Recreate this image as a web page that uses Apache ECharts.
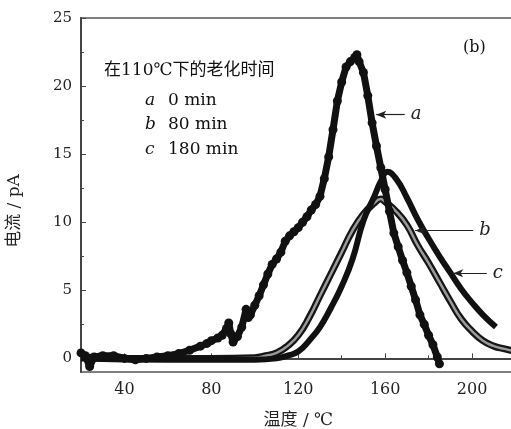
<!DOCTYPE html>
<html>
<head>
<meta charset="utf-8">
<script src="https://cdn.jsdelivr.net/npm/echarts@6/dist/echarts.min.js"></script>
<style>
html,body{margin:0;padding:0;background:#fff;}
#main{width:511px;height:429px;}
</style>
</head>
<body>
<div id="main"></div>
<script>
// 数据: 温度(℃) / 电流(pA)
var tempA = [20,22,24,26,30,35,40,45,50,55,60,65,70,75,78,80,83,85,87,88,89,90,92,94,96,97,98,100,102,104,106,108,110,112,114,116,118,120,122,124,126,128,130,132,134,136,138,140,142,144,146,147,148,150,152,154,156,158,160,162,164,166,168,170,172,174,176,178,180,182,184,185];
var curA  = [0.4,0.2,-0.6,0.1,0.2,0.2,0.0,-0.1,0.0,0.1,0.2,0.35,0.6,0.9,1.1,1.3,1.5,1.7,2.2,2.6,1.8,1.2,1.6,2.3,3.6,3.0,3.2,3.9,4.6,5.4,6.2,6.9,7.3,7.8,8.6,9.0,9.3,9.6,10.0,10.4,10.9,11.3,11.9,13.2,14.8,16.8,18.9,20.3,21.4,21.8,22.1,22.3,21.8,21.0,19.3,17.3,15.6,14.0,12.4,10.8,9.2,8.2,7.2,6.3,5.3,4.3,3.2,2.5,1.7,1.0,0.1,-0.4];

var tempB = [20,40,60,80,100,105,110,115,120,125,130,135,140,145,150,155,158,160,165,170,175,180,185,190,195,200,205,210,215,220];
var curB  = [0.1,0.0,0.0,0.0,0.05,0.2,0.4,0.9,1.7,3.0,4.6,6.2,7.8,9.4,10.6,11.4,11.7,11.5,10.8,9.8,8.3,7.0,5.6,4.2,2.9,2.0,1.3,0.9,0.7,0.5];

var tempC = [20,60,100,110,115,120,125,130,135,140,145,150,155,158,161,165,170,175,180,185,190,195,200,205,211];
var curC  = [0.0,-0.1,-0.1,0.0,0.2,0.5,1.3,2.3,3.7,5.3,7.3,10.1,11.9,13.0,13.7,13.2,11.8,10.2,8.8,7.5,6.3,5.1,4.1,3.2,2.3];

var xMajor = [40,80,120,160,200];
var xMinor = [60,100,140,180,220];
var yMajor = [0,5,10,15,20,25];
var yMinor = [2.5,7.5,12.5,17.5,22.5];

// 标注箭头: [箭头x, y, 尾x, 文字]
var notes = [[155.9,17.9,169.0,'a'],[173.8,9.4,200.5,'b'],[191.3,6.25,206.8,'c']];

var legendRows = [['a','0 min'],['b','80 min'],['c','180 min']];

function pairs(xs, ys){
	var out = [];
	for(var i=0;i<xs.length;i++) out.push([xs[i], ys[i]]);
	return out;
}

var serif = "'DejaVu Serif','Liberation Serif','Noto Sans CJK SC',serif";
var axisColor = '#444';

var markData = [];
for(var i=0;i<notes.length;i++){
	var n = notes[i];
	markData.push([{coord:[n[0],n[1]]},{coord:[n[2],n[1]],label:{formatter:n[3]}}]);
}

var chart = echarts.init(document.getElementById('main'), null, {renderer:'canvas'});

var graphics = [];
graphics.push({type:'text',left:104,top:62,style:{text:'在110℃下的老化时间',font:"17px "+serif,fill:'#111'}});
for(var i=0;i<legendRows.length;i++){
	graphics.push({type:'text',left:145,top:92+i*24.5,style:{text:legendRows[i][0],font:"italic 17px "+serif,fill:'#111'}});
	graphics.push({type:'text',left:168,top:92+i*24.5,style:{text:legendRows[i][1],font:"17px "+serif,fill:'#111'}});
}
graphics.push({type:'text',left:463,top:40,style:{text:'(b)',font:"16px "+serif,fill:'#111'}});
graphics.push({type:'text',x:15,y:211,rotation:Math.PI/2,style:{text:'电流 / pA',font:"17px "+serif,fill:'#222',align:'center',verticalAlign:'middle'}});

chart.setOption({
	animation:false,
	backgroundColor:'#fff',
	grid:{left:81,top:18,right:-4.5,bottom:57,show:true,borderColor:'#555',borderWidth:1.5,outerBoundsMode:'none',containLabel:false},
	xAxis:[{
		type:'value',min:20,max:220,
		name:'温度 / ℃',nameLocation:'middle',nameGap:40,
		nameTextStyle:{fontFamily:serif,fontSize:17,color:'#222'},
		axisLine:{lineStyle:{color:axisColor,width:2}},
		axisTick:{inside:true,length:5,customValues:xMajor,lineStyle:{color:axisColor}},
		axisLabel:{customValues:xMajor,fontFamily:serif,fontSize:16,color:'#222',margin:10},
		splitLine:{show:false}
	},{
		type:'value',min:20,max:220,position:'bottom',
		axisLine:{show:false},
		axisTick:{inside:true,length:3,customValues:xMinor,lineStyle:{color:axisColor}},
		axisLabel:{show:false},
		splitLine:{show:false}
	}],
	yAxis:[{
		type:'value',min:-1,max:25,
		axisLine:{show:true,lineStyle:{color:axisColor,width:2}},
		axisTick:{show:true,inside:true,length:5,customValues:yMajor,lineStyle:{color:axisColor}},
		axisLabel:{customValues:yMajor,fontFamily:serif,fontSize:15,color:'#222',margin:9},
		splitLine:{show:false}
	},{
		type:'value',min:-1,max:25,position:'left',
		axisLine:{show:false},
		axisTick:{show:true,inside:true,length:3,customValues:yMinor,lineStyle:{color:axisColor}},
		axisLabel:{show:false},
		splitLine:{show:false}
	}],
	series:[{
		name:'b-edge',type:'line',data:pairs(tempB,curB),showSymbol:false,smooth:true,
		lineStyle:{color:'#151515',width:7},z:2
	},{
		name:'b',type:'line',data:pairs(tempB,curB),showSymbol:false,smooth:true,
		lineStyle:{color:'#9a9a9a',width:2.5},z:3
	},{
		name:'c',type:'line',data:pairs(tempC,curC),showSymbol:false,smooth:true,
		lineStyle:{color:'#111',width:6},z:4,
		markLine:{
			silent:true,symbol:['arrow','none'],symbolSize:[6,10],
			lineStyle:{color:'#222',width:1.2,type:'solid'},
			label:{show:true,position:'end',distance:6,fontFamily:serif,fontStyle:'italic',fontSize:18,color:'#222'},
			data:markData
		}
	},{
		name:'a',type:'line',data:pairs(tempA,curA),smooth:false,
		symbol:'circle',symbolSize:9,showSymbol:true,
		itemStyle:{color:'#111'},
		lineStyle:{color:'#111',width:7},z:5
	}],
	graphic:graphics
});
</script>
</body>
</html>
